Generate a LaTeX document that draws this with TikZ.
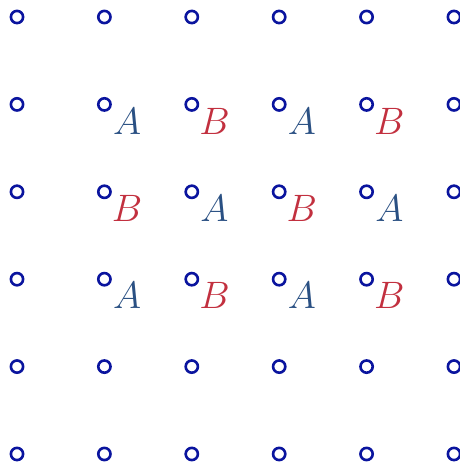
\documentclass[tikz,border=0pt]{standalone}
\usetikzlibrary{positioning}
\definecolor{gridBlue}{HTML}{0A149E}
\definecolor{labA}{HTML}{2A5083}
\definecolor{labB}{HTML}{C2303F}
\tikzset{
  grid-pt/.style={circle, draw=gridBlue, line width=1.7pt,
    minimum size=0.28cm, inner sep=0pt},
  lab/.style={font=\fontsize{24}{28}\selectfont, inner sep=0pt,
    xshift=0.52cm, yshift=-0.38cm},
  lab-a/.style={lab, text=labA},
  lab-b/.style={lab, text=labB}
}
\begin{document}
\begin{tikzpicture}
\useasboundingbox (-0.389,-0.275) rectangle (10.136,10.389);
% lattice
\foreach \i in {0,...,5}
  \foreach \j in {0,...,5}
    \node[grid-pt] (p-\i-\j) at (2*\i,2*\j) {};
% sublattice labels
\foreach \i in {1,...,4}
  \foreach \j in {2,3,4} {
    \pgfmathparse{int(mod(\i+\j,2))}
    \ifnum\pgfmathresult=1
      \node[lab-a] (l-\i-\j) at (p-\i-\j) {$A$};
    \else
      \node[lab-b] (l-\i-\j) at (p-\i-\j) {$B$};
    \fi
  }
\end{tikzpicture}
\end{document}
